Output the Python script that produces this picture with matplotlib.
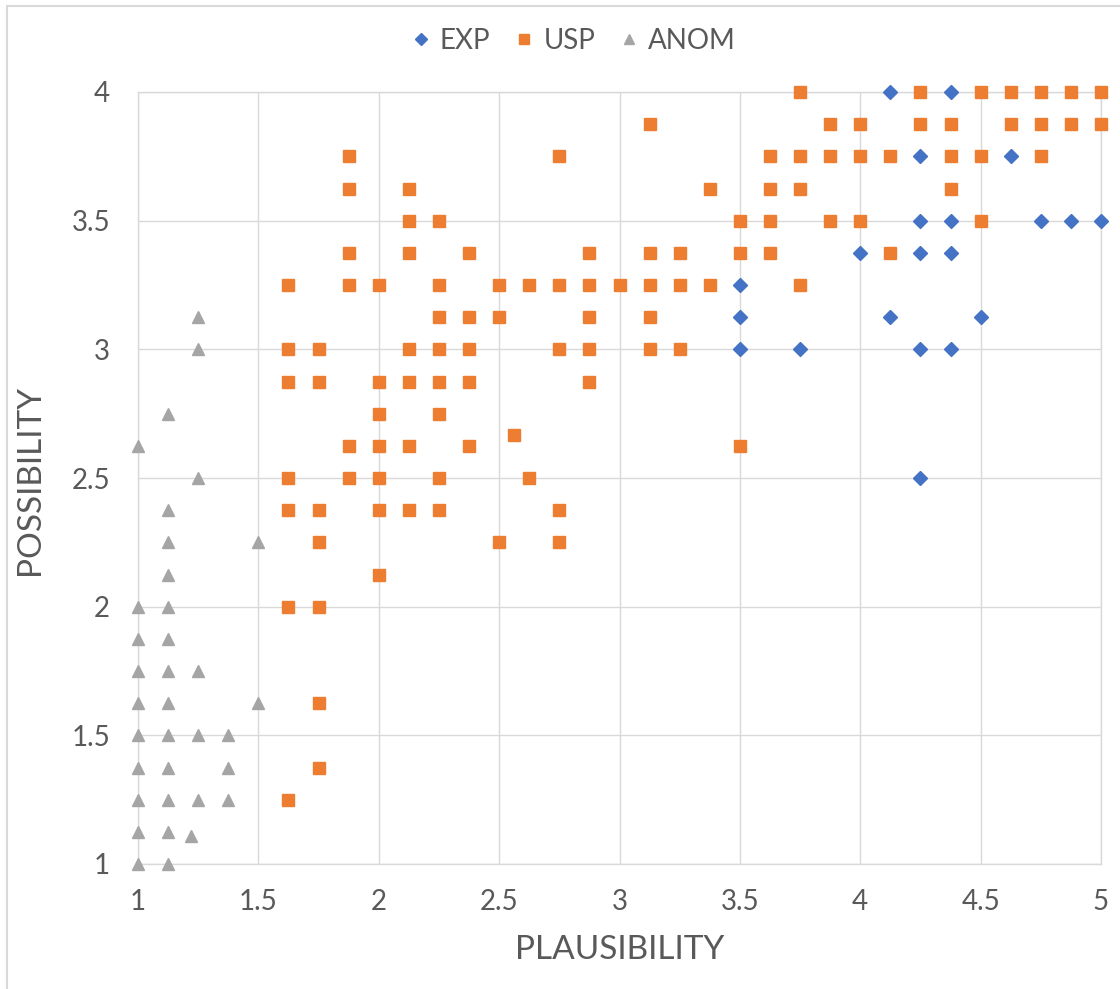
import matplotlib
matplotlib.use("Agg")
import matplotlib.pyplot as plt
from matplotlib.patches import Rectangle

plt.rcParams['font.family'] = ['Lato', 'DejaVu Sans']

# EXP series (blue diamonds)
exp_x = [4.125, 4.375, 4.25, 4.625, 4.25, 4.375, 4.75, 4.875, 5.0, 4.0, 4.25,
         4.375, 3.5, 3.5, 4.125, 4.5, 3.5, 3.75, 4.25, 4.375, 4.25]
exp_y = [4.0, 4.0, 3.75, 3.75, 3.5, 3.5, 3.5, 3.5, 3.5, 3.375, 3.375,
         3.375, 3.25, 3.125, 3.125, 3.125, 3.0, 3.0, 3.0, 3.0, 2.5]

# USP series (orange squares), listed row by row
usp_rows = {
    4.0: [3.75, 4.25, 4.5, 4.625, 4.75, 4.875, 5.0],
    3.875: [3.125, 3.875, 4.0, 4.25, 4.375, 4.625, 4.75, 4.875, 5.0],
    3.75: [1.875, 2.75, 3.625, 3.75, 3.875, 4.0, 4.125, 4.375, 4.5, 4.75],
    3.625: [1.875, 2.125, 3.375, 3.625, 3.75, 4.375],
    3.5: [2.125, 2.25, 3.5, 3.625, 3.875, 4.0, 4.5],
    3.375: [1.875, 2.125, 2.375, 2.875, 3.125, 3.25, 3.5, 3.625, 4.125],
    3.25: [1.625, 1.875, 2.0, 2.25, 2.5, 2.625, 2.75, 2.875, 3.0, 3.125,
           3.25, 3.375, 3.75],
    3.125: [2.25, 2.375, 2.5, 2.875, 3.125],
    3.0: [1.625, 1.75, 2.125, 2.25, 2.375, 2.75, 2.875, 3.125, 3.25],
    2.875: [1.625, 1.75, 2.0, 2.125, 2.25, 2.375, 2.875],
    2.75: [2.0, 2.25],
    2.667: [2.56],
    2.625: [1.875, 2.0, 2.125, 2.375, 3.5],
    2.5: [1.625, 1.875, 2.0, 2.25, 2.625],
    2.375: [1.625, 1.75, 2.0, 2.125, 2.25, 2.75],
    2.25: [1.75, 2.5, 2.75],
    2.125: [2.0],
    2.0: [1.625, 1.75],
    1.625: [1.75],
    1.375: [1.75],
    1.25: [1.625],
}
usp_x = [x for y, xs in usp_rows.items() for x in xs]
usp_y = [y for y, xs in usp_rows.items() for x in xs]

# ANOM series (grey triangles)
anom_x = [1.0, 1.125, 1.25, 1.25, 1.25, 1.125, 1.125, 1.5, 1.125, 1.0, 1.125,
          1.0, 1.125, 1.0, 1.125, 1.25, 1.0, 1.125, 1.5, 1.0, 1.125, 1.25,
          1.375, 1.0, 1.125, 1.375, 1.0, 1.125, 1.25, 1.375, 1.0, 1.125,
          1.22, 1.0, 1.125]
anom_y = [2.625, 2.75, 3.125, 3.0, 2.5, 2.375, 2.25, 2.25, 2.125, 2.0, 2.0,
          1.875, 1.875, 1.75, 1.75, 1.75, 1.625, 1.625, 1.625, 1.5, 1.5, 1.5,
          1.5, 1.375, 1.375, 1.375, 1.25, 1.25, 1.25, 1.25, 1.125, 1.125,
          1.11, 1.0, 1.0]

xticks = [1, 1.5, 2, 2.5, 3, 3.5, 4, 4.5, 5]
yticks = [1, 1.5, 2, 2.5, 3, 3.5, 4]

text_col = '#595959'
grid_col = '#D9D9D9'

fig = plt.figure(figsize=(11.2, 9.89), dpi=100)
ax = fig.add_axes([138 / 1120, 125 / 989, 963 / 1120, 772 / 989])

ax.plot(exp_x, exp_y, 'D', color='#4472C4', markersize=7.5, linestyle='none',
        label='EXP', zorder=3, clip_on=False)
ax.plot(usp_x, usp_y, 's', color='#ED7D31', markersize=8.5, linestyle='none',
        label='USP', zorder=4, clip_on=False)
ax.plot(anom_x, anom_y, '^', color='#A5A5A5', markersize=9, linestyle='none',
        label='ANOM', zorder=5, clip_on=False)

ax.set_xlim(1, 5)
ax.set_ylim(1, 4)
ax.set_xticks(xticks)
ax.set_yticks(yticks)
ax.set_xticklabels([f'{t:g}' for t in xticks])
ax.set_yticklabels([f'{t:g}' for t in yticks])
ax.grid(True, color=grid_col, linewidth=1.0)
ax.set_axisbelow(True)
for s in ax.spines.values():
    s.set_color(grid_col)
    s.set_linewidth(1.0)
ax.tick_params(axis='both', length=0, labelsize=20, labelcolor=text_col)
ax.tick_params(axis='x', pad=18)
ax.tick_params(axis='y', pad=20)

fig.text(30 / 1120, 1 - 480 / 989, 'POSSIBILITY', rotation=90, fontsize=24,
         color=text_col, ha='center', va='center')
fig.text(620 / 1120, 1 - 950 / 989, 'PLAUSIBILITY', fontsize=24,
         color=text_col, ha='center', va='center')

fig.legend(loc='center', bbox_to_anchor=(574 / 1120, 1 - 41 / 989), ncol=3,
           frameon=False, fontsize=20, labelcolor=text_col, handlelength=0.6,
           handletextpad=0.4, columnspacing=0.9, markerscale=0.8)

# chart area border
fig.patches.append(Rectangle((7 / 1120, -0.1), 1.2, 1.1 - 6 / 989, fill=False,
                             edgecolor=grid_col, linewidth=1.5,
                             transform=fig.transFigure, figure=fig))

fig.savefig('out.png', dpi=100)
